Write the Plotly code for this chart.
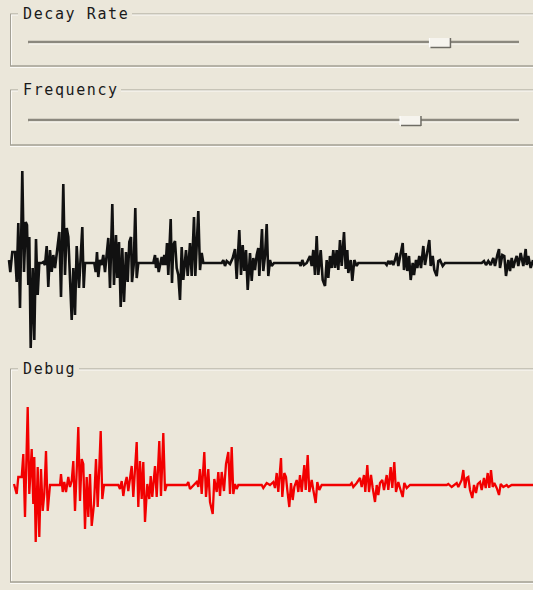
import plotly.graph_objects as go

W, H = 533, 590

# ---------------- data ----------------
# Main (black) waveform: sample time and amplitude
black_t = [9.0, 10.3, 12.3, 15.0, 16.7, 18.3, 20.0, 22.3, 24.0, 25.7, 27.0, 28.3, 29.3, 30.7, 32.7, 34.3,
           36.0, 37.7, 39.3, 41.7, 43.3, 45.0, 46.7, 48.3, 50.0, 51.7, 53.3, 55.0, 56.7, 59.3, 61.0, 63.3,
           65.0, 66.7, 68.3, 70.0, 71.7, 73.3, 75.0, 76.7, 79.0, 82.3, 83.7, 85.0, 94.3, 95.7, 97.0, 98.3,
           100.0, 101.7, 103.3, 105.0, 106.7, 108.3, 110.0, 112.3, 114.0, 116.0, 117.3, 119.0, 120.7, 122.3,
           124.0, 126.0, 127.7, 129.3, 131.0, 132.0, 133.7, 135.3, 136.7, 138.3, 153.3, 155.0, 156.0, 157.3,
           158.7, 160.3, 161.7, 163.0, 164.3, 165.7, 167.0, 168.3, 170.7, 172.0, 173.3, 175.0, 176.7, 178.3,
           180.0, 181.7, 183.3, 186.0, 187.7, 190.0, 191.7, 194.0, 195.3, 198.3, 200.0, 201.7, 203.3,
           221.7, 223.3, 225.0, 226.7, 230.0, 232.7, 235.0, 236.7, 239.3, 241.0, 242.7, 244.3, 246.0, 247.7,
           250.0, 251.7, 253.3, 255.0, 256.7, 258.3, 259.3, 262.0, 263.3, 265.0, 266.7, 268.3, 270.0, 271.7,
           274.0, 299.3, 300.7, 302.3, 304.0, 306.7, 310.0, 311.7, 313.3, 315.0, 316.7, 318.3, 320.7, 322.7,
           325.0, 326.7, 328.3, 330.0, 331.7, 333.3, 335.0, 336.7, 338.3, 340.0, 341.7, 344.0, 345.7, 347.3,
           348.3, 350.7, 352.3, 354.3, 356.7, 358.3, 385.0, 386.7, 388.3, 390.0, 391.7, 393.3, 395.0, 396.7,
           398.3, 400.7, 402.7, 404.0, 405.7, 407.3, 409.0, 410.7, 412.7, 414.0, 416.0, 417.3, 419.3, 421.0,
           423.3, 425.0, 426.7, 429.3, 430.7, 432.7, 434.3, 436.7, 438.3, 440.0, 442.7, 445.0, 448.3,
           481.7, 484.0, 486.0, 488.3, 490.7, 493.3, 495.0, 497.3, 499.0, 500.0, 502.3, 504.3, 506.0, 508.3,
           510.0, 511.7, 513.3, 515.0, 516.7, 518.3, 520.7, 523.3, 525.7, 526.7, 528.3, 530.7, 533.0]
black_amp = [3, -9, 11, 11, -19, 40, -45, 92, -9, 41, 38, -22, 26, -85, -5, -77,
             24, -32, 0, 0, 1, -2, 17, -24, 13, -9, 8, -5, 9, 31, -34, 79,
             -12, 35, 26, -12, -57, -5, -52, 17, -25, 36, -25, 0, 0, -9, 11, -14,
             3, -2, 8, -9, 8, 25, -25, 59, -22, 28, -15, 21, -44, 15,
             -39, 11, -19, 21, 26, -19, -2, 55, -15, 0, 0, 8, -5, 5,
             -9, 0, 6, -2, 8, -2, 20, -12, 44, -20, 18, 22, -5, -12,
             -37, 16, -17, 13, -13, 20, -13, 46, -13, 52, -7, 10, 0,
             0, 3, -3, 2, -1, 5, 14, -16, 33, -12, 18, -8, 13, -27,
             10, -18, 5, -7, 8, 15, -13, 34, -8, 7, 39, -13, 3, -3,
             0, 0, -3, 3, -2, 0, 7, -3, 13, -12, 27, -12, 13, -17,
             -23, 3, -15, 7, -5, 13, -5, 13, -7, 23, -3, 31, -6, 13,
             -10, 3, -18, 3, -3, 0, 0, -2, 2, -1, 2, -2, 3, 10,
             -3, 8, 20, -7, 10, -8, 7, -17, 0, -12, 3, -5, 7, -5,
             17, -2, 7, 23, -3, 7, -7, -13, 2, 3, -3, 0, 0,
             0, 2, -2, 2, -2, 5, -3, 8, 14, -5, 8, 7, -13, 3,
             -8, 5, -5, 2, 7, -3, 10, -3, 14, -2, 7, -5, 3]

# Debug (red) waveform: sample time and amplitude
red_t = [14.0, 16.7, 18.3, 21.7, 23.3, 25.0, 27.7, 29.3, 31.7, 33.3, 34.3, 35.7, 37.7, 39.3, 41.0, 42.7,
         44.3, 46.0, 47.7, 50.0, 60.0, 61.0, 62.7, 64.3, 66.0, 68.3, 70.0, 71.7, 73.3, 75.0, 76.7, 78.3,
         80.0, 81.7, 83.3, 85.0, 86.7, 88.3, 90.0, 91.7, 94.0, 96.0, 97.7, 100.7, 102.3, 104.0,
         118.3, 120.0, 121.7, 123.3, 125.0, 126.7, 128.3, 131.7, 133.3, 136.7, 138.3, 140.0, 141.7, 143.3,
         145.0, 147.3, 149.3, 150.7, 152.3, 155.0, 156.7, 159.3, 161.0, 163.3, 165.0, 166.7,
         186.7, 188.3, 190.0, 193.3, 196.7, 198.3, 200.0, 201.7, 204.3, 206.0, 208.3, 210.0, 212.7, 214.3,
         216.7, 218.3, 220.0, 221.7, 224.0, 226.0, 228.3, 230.0, 231.7, 233.3, 235.0, 236.7, 238.3,
         261.7, 263.3, 266.7, 270.0, 273.3, 275.0, 276.7, 278.3, 281.0, 282.3, 284.3, 286.0, 287.3, 289.3,
         291.0, 292.7, 294.3, 296.7, 298.3, 300.0, 301.7, 304.3, 305.7, 307.7, 309.3, 311.7, 313.3, 315.7,
         317.3, 319.3, 321.7,
         350.0, 351.7, 353.3, 356.7, 360.0, 361.7, 364.0, 365.3, 367.3, 369.0, 371.0, 372.7, 375.0, 376.7,
         378.3, 380.0, 382.3, 384.0, 386.7, 388.3, 390.7, 392.3, 394.3, 396.0, 398.3, 400.0, 402.7, 404.3,
         406.7, 410.0,
         446.7, 448.3, 451.7, 456.7, 458.3, 461.7, 463.3, 465.0, 466.7, 468.3, 470.0, 472.3, 474.0, 476.0,
         477.7, 480.0, 481.7, 484.0, 485.7, 487.7, 489.3, 491.0, 492.7, 494.3, 496.7, 499.0, 500.7, 503.3,
         506.7, 508.3, 511.7, 533.0]
red_amp = [1, -9, 8, 8, 31, -32, 78, -9, 36, -19, 28, -57, 18, -52, 16, -26,
           -9, 34, -26, 0, 0, 11, -7, 3, -7, 8, -2, 4, 24, -26, 14, 58,
           -16, 26, 21, -44, 8, -32, 11, -41, -19, 26, -22, 54, -14, 0,
           0, -4, 4, -11, 1, 8, -6, 19, -12, 43, -22, 24, -14, 23,
           -37, 1, -14, 9, -12, 19, -12, 44, -11, 52, -6, 0,
           0, 3, -4, 0, 3, -2, 16, -9, 33, -12, 16, -17, -29, 6,
           -7, 13, -11, 13, -6, 21, 33, -9, 38, -9, 1, -4, 0,
           0, -3, 2, 0, 3, -3, 12, -7, 27, -12, 12, 8, -5, -22,
           2, -15, -2, 5, -7, 10, -7, 20, -5, 30, -7, 5, -5, -18,
           3, -5, 0,
           0, 2, -2, 2, 7, -2, 10, -7, 20, -7, 10, -3, -17, 0,
           -10, 2, 5, -5, 10, -5, 18, -3, 23, -7, 3, -3, -12, 2,
           -3, 0,
           0, 1, -2, 2, -2, 5, 15, -3, 7, 8, -5, -13, 0, -8,
           1, 3, -5, 7, -3, 12, -3, 15, -2, 2, -3, -10, 1, -2,
           0, -2, 0, 0]

slider_labels = ["Decay Rate", "Frequency"]
slider_values = [0.84, 0.78]     # handle positions as fraction of the trough
panel_label = "Debug"

# ---------------- layout helpers (pixel -> paper) ----------------
def px(x):
    return x / W

def py(y):
    return 1 - y / H

BG = "#EBE7DA"
DARK = "#A3A095"
LIGHT = "#FBFAF6"
TROUGH = "#8B887E"
FONT = "DejaVu Sans Mono"

shapes = []
annotations = []

def hline(x0, x1, y, color, width=1):
    shapes.append(dict(type="line", xref="paper", yref="paper",
                       x0=px(x0), x1=px(x1), y0=py(y), y1=py(y),
                       line=dict(color=color, width=width)))

def vline(x, y0, y1, color, width=1):
    shapes.append(dict(type="line", xref="paper", yref="paper",
                       x0=px(x), x1=px(x), y0=py(y0), y1=py(y1),
                       line=dict(color=color, width=width)))

def groupbox(top, bottom, label, label_end):
    hline(10, 18, top, DARK)
    hline(label_end, W, top, DARK)
    hline(11, 18, top + 1, LIGHT)
    hline(label_end, W, top + 1, LIGHT)
    vline(10.5, top, bottom, DARK)
    vline(11.5, top + 1, bottom, LIGHT)
    hline(10, W, bottom, DARK, 1.5)
    hline(10, W, bottom + 1.5, LIGHT)
    annotations.append(dict(
        xref="paper", yref="paper", x=px(21), y=py(top - 0.5),
        xanchor="left", yanchor="middle", showarrow=False,
        text='<span style="letter-spacing:1.6px">%s</span>' % label,
        font=dict(family=FONT, size=15, color="#1A1A1A")))

def slider(y, frac):
    x0, x1 = 28, 519
    hline(x0, x1, y, TROUGH, 2.5)
    hline(x0 + 1, x1, y + 2, LIGHT, 1)
    c = x0 + frac * (x1 - x0)
    shapes.append(dict(type="rect", xref="paper", yref="paper",
                       x0=px(c - 11), x1=px(c + 10), y0=py(y + 6), y1=py(y - 4),
                       fillcolor="#F6F4EE", line=dict(width=0)))
    hline(c - 10, c + 10, y + 5.5, "#6E6C64", 1.5)
    vline(c + 10, y - 4, y + 6, "#6E6C64", 1.5)
    vline(c - 11, y - 4, y + 5, "#FFFFFF", 1)

groupbox(14, 66, slider_labels[0], 132)
slider(42, slider_values[0])
groupbox(90, 145, slider_labels[1], 121)
slider(120, slider_values[1])
groupbox(369, 582, panel_label, 79)

# ---------------- traces ----------------
fig = go.Figure()
fig.add_trace(go.Scatter(x=black_t, y=black_amp, mode="lines",
                         line=dict(color="#111111", width=2.6),
                         xaxis="x", yaxis="y", hoverinfo="skip"))
fig.add_trace(go.Scatter(x=red_t, y=red_amp, mode="lines",
                         line=dict(color="#F20000", width=2.3),
                         xaxis="x", yaxis="y2", hoverinfo="skip"))

# black panel: pixel rows 148..358 centred on 263; red panel: 395..575 centred on 485
fig.update_layout(
    width=W, height=H,
    margin=dict(l=0, r=0, t=0, b=0),
    paper_bgcolor=BG, plot_bgcolor="rgba(0,0,0,0)",
    showlegend=False,
    xaxis=dict(range=[0, W], domain=[0, 1], visible=False, fixedrange=True),
    yaxis=dict(range=[-(358 - 263), 263 - 148], domain=[1 - 358 / H, 1 - 148 / H],
               visible=False, fixedrange=True),
    yaxis2=dict(range=[-(575 - 485), 485 - 395], domain=[1 - 575 / H, 1 - 395 / H],
                visible=False, fixedrange=True, anchor="x"),
    shapes=shapes,
    annotations=annotations,
)

fig.write_html("out.html", config={"displayModeBar": False},
               post_script="document.body.style.margin='0';document.body.style.background='%s';" % BG)
